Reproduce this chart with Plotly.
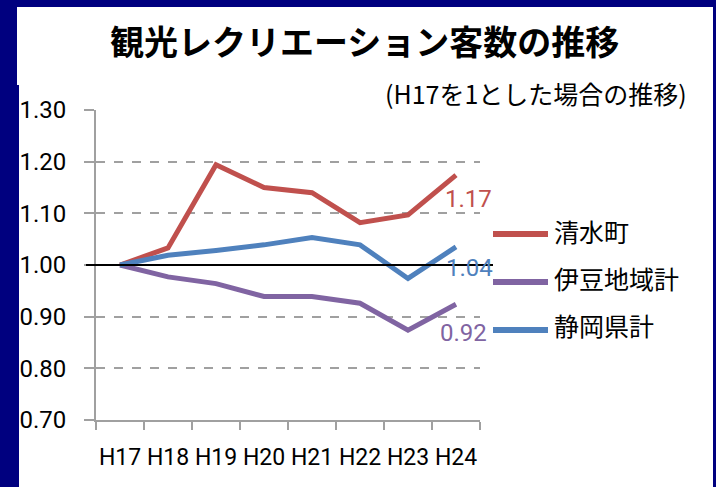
import plotly.graph_objects as go

# ---- data ----
categories = ["H17", "H18", "H19", "H20", "H21", "H22", "H23", "H24"]
series_names = ["清水町", "伊豆地域計", "静岡県計"]
shimizu = [1.00, 1.033, 1.194, 1.150, 1.140, 1.082, 1.097, 1.174]
izu = [1.00, 0.977, 0.964, 0.939, 0.939, 0.926, 0.874, 0.924]
shizuoka = [1.00, 1.019, 1.028, 1.039, 1.053, 1.039, 0.974, 1.035]
end_labels = ["1.17", "0.92", "1.04"]
y_ticks = [0.70, 0.80, 0.90, 1.00, 1.10, 1.20, 1.30]
title_text = "観光レクリエーション客数の推移"
subtitle_text = "(H17を1とした場合の推移)"

values = [shimizu, izu, shizuoka]
colors = ["#C0504D", "#8064A2", "#4F81BD"]

W, H = 716, 487
L, R, T, B = 96, 236, 110, 67
PW, PH = W - L - R, H - T - B


def px(x):
    return (x - L) / PW


def py(y):
    return (H - B - y) / PH


NAVY = "#00007F"
JP = "Noto Sans CJK JP"
NUM = "Roboto"

fig = go.Figure()
for name, vals, col in zip(series_names, values, colors):
    fig.add_trace(go.Scatter(
        x=categories, y=vals, mode="lines", name=name,
        line=dict(color=col, width=5), showlegend=False, cliponaxis=False,
    ))

shapes = [
    dict(type="rect", xref="paper", yref="paper", x0=px(17), x1=px(713), y0=py(85), y1=py(7),
         fillcolor="white", line=dict(width=0), layer="below"),
    dict(type="rect", xref="paper", yref="paper", x0=px(19), x1=px(713), y0=py(H + 2), y1=py(85),
         fillcolor="white", line=dict(width=0), layer="below"),
    dict(type="line", xref="paper", yref="y", x0=px(86), x1=px(493), y0=1.0, y1=1.0,
         line=dict(color="black", width=2), layer="above"),
]

annotations = [
    dict(text=title_text, xref="paper", yref="paper", x=px(364), y=py(40), xanchor="center",
         yanchor="middle", showarrow=False, font=dict(family=JP, size=34, color="black", weight=700)),
    dict(text=subtitle_text, xref="paper", yref="paper", x=px(689), y=py(93), xanchor="right",
         yanchor="middle", showarrow=False, font=dict(family=JP, size=25, color="black", weight=400)),
]

# end-of-line value labels
label_shift = [(12, -24), (7, -29), (13, -21)]
for vals, lab, col, (dx, dy) in zip(values, end_labels, colors, label_shift):
    annotations.append(dict(text=lab, x=categories[-1], y=vals[-1], xref="x", yref="y",
                            xshift=dx, yshift=dy, showarrow=False, xanchor="center",
                            yanchor="middle", font=dict(family=NUM, size=24, color=col)))

# custom legend
leg_order = [0, 1, 2]
leg_line_y = [234, 282, 330]
leg_text_y = [231, 278, 325]
for i, ly, ty in zip(leg_order, leg_line_y, leg_text_y):
    shapes.append(dict(type="line", xref="paper", yref="paper", x0=px(493), x1=px(548),
                       y0=py(ly), y1=py(ly), line=dict(color=colors[i], width=6)))
    annotations.append(dict(text=series_names[i], xref="paper", yref="paper", x=px(552), y=py(ty),
                            xanchor="left", yanchor="middle", showarrow=False,
                            font=dict(family=JP, size=25, color="black")))

fig.update_layout(
    width=W, height=H,
    margin=dict(l=L, r=R, t=T, b=B, pad=0, autoexpand=False),
    paper_bgcolor=NAVY, plot_bgcolor="white",
    shapes=shapes, annotations=annotations,
    showlegend=False,
)
fig.update_xaxes(
    type="category", range=[-0.5, 7.5], tickmode="array", tickvals=categories,
    tickson="boundaries", ticks="outside", ticklen=8, tickcolor="#A0A0A0", tickwidth=2,
    showline=True, linecolor="#A0A0A0", linewidth=2, showgrid=False, zeroline=False,
    tickangle=0, automargin=False, ticklabelstandoff=15,
    tickfont=dict(family=NUM, size=23, color="black"), fixedrange=True,
)
fig.update_yaxes(
    range=[0.70, 1.30], tickmode="array", tickvals=y_ticks, tickformat=".2f",
    ticks="outside", ticklen=10, tickcolor="#A0A0A0", tickwidth=2,
    showline=True, linecolor="#A0A0A0", linewidth=2, automargin=False,
    showgrid=True, gridcolor="#A0A0A0", gridwidth=1.5, griddash="dash", zeroline=False,
    ticklabelstandoff=13,
    tickfont=dict(family=NUM, size=24, color="black"), fixedrange=True,
)

fig.write_html(
    "out.html",
    config={"displayModeBar": False},
    post_script="document.body.style.margin='0';document.body.style.background='#00007F';",
)
